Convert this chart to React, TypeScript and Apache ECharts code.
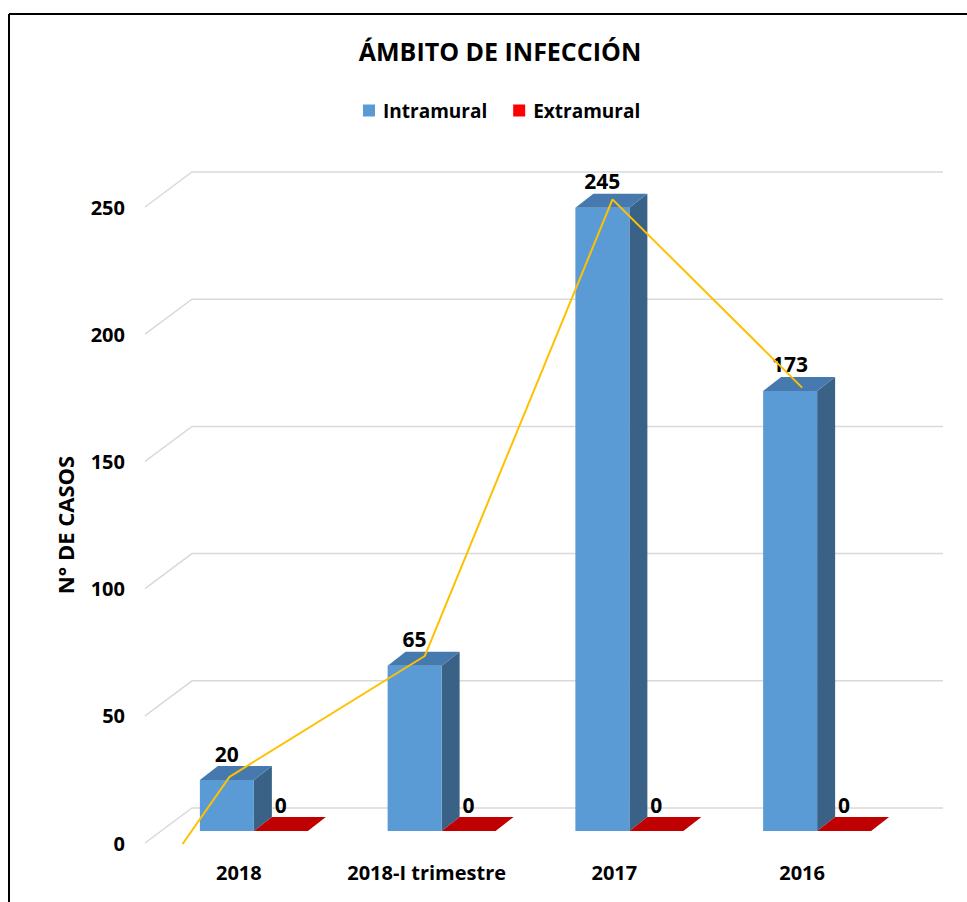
import React, { useEffect, useRef } from 'react';
import * as echarts from 'echarts';

const categories = ['2018', '2018-I trimestre', '2017', '2016'];
const intramural = [20, 65, 245, 173];
const extramural = [0, 0, 0, 0];
const yTicks = [0, 50, 100, 150, 200, 250];
// hand-drawn trend line (x in category units, y in cases)
const trendX = [-0.3, -0.05, 0.99, 1.99, 3.0];
const trendY = [-0.4, 26, 73.5, 253, 179];

const FONT = '"Open Sans", "Noto Sans", sans-serif';
const DEPTH = [47, -35];
const BAR_OFF = [15, -12];
const BAR_DEPTH = [18, -14];

export default function App() {
  const ref = useRef<HTMLDivElement>(null);
  useEffect(() => {
    const chart = echarts.init(ref.current as HTMLDivElement, null, { renderer: 'svg' });

    const barSeries = (name: string, values: number[], legendColor: string, front: string, sideC: string, topC: string, side: number) => ({
      type: 'custom',
      name,
      data: values.map((v, i) => [i, v]),
      encode: { x: 0, y: 1 },
      itemStyle: { color: legendColor },
      z: 3,
      silent: true,
      renderItem: (params: any, api: any) => {
        const i = api.value(0);
        const v = api.value(1);
        const top = api.coord([i, v]);
        const base = api.coord([i, 0]);
        const band = api.size([1, 0])[0];
        const w = band * 0.2876;
        const cx = top[0] + BAR_OFF[0];
        const x0 = side < 0 ? cx - w : cx;
        const x1 = x0 + w;
        const yT = top[1] + BAR_OFF[1];
        const yB = base[1] + BAR_OFF[1];
        const [dx, dy] = BAR_DEPTH;
        const children: any[] = [];
        if (yB - yT > 0.5) {
          children.push({
            type: 'polygon',
            shape: { points: [[x1, yT], [x1 + dx, yT + dy], [x1 + dx, yB + dy], [x1, yB]] },
            style: { fill: sideC },
          });
          children.push({
            type: 'rect',
            shape: { x: x0, y: yT, width: w, height: yB - yT },
            style: { fill: front },
          });
        }
        children.push({
          type: 'polygon',
          shape: { points: [[x0, yT], [x0 + dx, yT + dy], [x1 + dx, yT + dy], [x1, yT]] },
          style: { fill: topC },
        });
        children.push({
          type: 'text',
          style: {
            text: String(v),
            x: (x0 + x1) / 2,
            y: yT + dy - 2,
            align: 'center',
            verticalAlign: 'bottom',
            fontSize: 21,
            fontWeight: 'bold',
            fontFamily: FONT,
            fill: '#000',
          },
        });
        return { type: 'group', children };
      },
    });

    const option: any = {
      animation: false,
      backgroundColor: '#fff',
      title: {
        text: 'ÁMBITO DE INFECCIÓN',
        left: 495,
        top: 33,
        textAlign: 'center',
        textStyle: { fontSize: 25, fontWeight: 'bold', fontFamily: FONT, color: '#000' },
      },
      legend: {
        data: ['Intramural', 'Extramural'],
        left: 358,
        top: 96,
        icon: 'rect',
        itemWidth: 12,
        itemHeight: 12,
        itemGap: 26,
        textStyle: { fontSize: 19, fontWeight: 'bold', fontFamily: FONT, color: '#000', padding: [0, 0, 0, 3] },
      },
      grid: { left: 145, right: 71, top: 207, bottom: 59, containLabel: false },
      xAxis: [
        {
          type: 'category',
          data: categories,
          axisLine: { show: false },
          axisTick: { show: false },
          splitLine: { show: false },
          axisLabel: { interval: 0, margin: 19, fontSize: 20, fontWeight: 'bold', fontFamily: FONT, color: '#000' },
        },
        { type: 'value', min: -0.5, max: 3.5, show: false },
      ],
      yAxis: {
        type: 'value',
        min: 0,
        max: 250,
        interval: 50,
        axisLine: { show: false },
        axisTick: { show: false },
        splitLine: { show: false },
        axisLabel: { margin: 20, fontSize: 20, fontWeight: 'bold', fontFamily: FONT, color: '#000' },
        name: 'N° DE CASOS',
        nameLocation: 'middle',
        nameRotate: 90,
        nameGap: 69,
        nameTextStyle: { fontSize: 22, fontWeight: 'bold', fontFamily: FONT, color: '#000' },
      },
      graphic: [
        { type: 'line', shape: { x1: 9, y1: 14, x2: 967, y2: 14 }, style: { stroke: '#000', lineWidth: 2 } },
        { type: 'line', shape: { x1: 9, y1: 14, x2: 9, y2: 902 }, style: { stroke: '#000', lineWidth: 2 } },
      ],
      series: [
        {
          type: 'custom',
          name: 'grid',
          data: yTicks.map((v) => [0, v]),
          encode: { x: 0, y: 1 },
          z: 1,
          silent: true,
          renderItem: (params: any, api: any) => {
            const p = api.coord([0, api.value(1)]);
            const x0 = params.coordSys.x;
            const w = params.coordSys.width;
            return {
              type: 'polyline',
              shape: { points: [[x0, p[1]], [x0 + DEPTH[0], p[1] + DEPTH[1]], [x0 + w + DEPTH[0], p[1] + DEPTH[1]]] },
              style: { stroke: '#D9D9D9', lineWidth: 1.5, fill: 'none' },
            };
          },
        },
        barSeries('Intramural', intramural, '#5B9BD5', '#5B9BD5', '#3A6286', '#467AAE', -1),
        barSeries('Extramural', extramural, '#FF0000', '#FF0000', '#A00000', '#C00000', 1),
        {
          type: 'line',
          name: 'Tendencia',
          xAxisIndex: 1,
          data: trendX.map((x, i) => [x, trendY[i]]),
          symbol: 'none',
          clip: false,
          z: 5,
          silent: true,
          lineStyle: { color: '#FFC000', width: 2 },
        },
      ],
    };
    chart.setOption(option);
    return () => chart.dispose();
  }, []);
  return (
    <div
      ref={ref}
      style={{ position: 'absolute', left: 0, top: 0, width: 967, height: 902, background: '#fff' }}
    />
  );
}
